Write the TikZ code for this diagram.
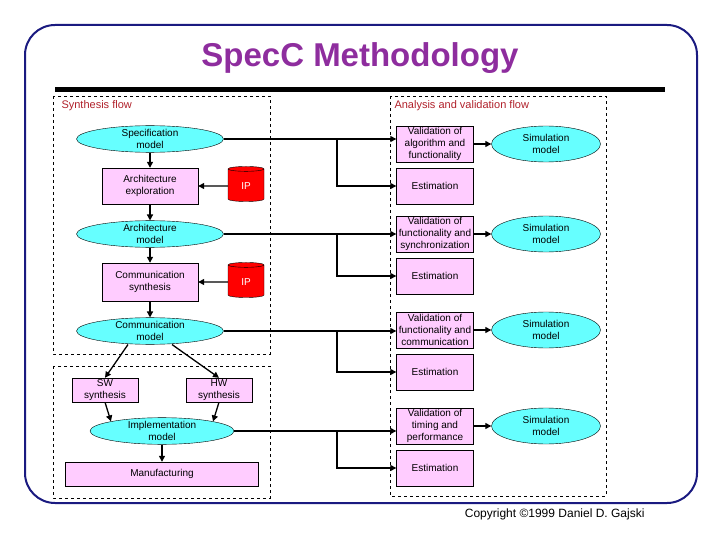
\documentclass[tikz,border=0pt]{standalone}
\usepackage{fontspec}
\setmainfont{Liberation Sans}
\usetikzlibrary{shapes.geometric,arrows.meta}
\definecolor{modelcyan}{HTML}{66FFFF}
\definecolor{taskpink}{HTML}{FFCCFF}
\definecolor{titlepurple}{HTML}{8E2D9E}
\definecolor{labelred}{HTML}{B0202A}
\definecolor{framenavy}{HTML}{1A1A80}
\tikzset{
  model/.style={ellipse,draw,fill=modelcyan,inner sep=0pt,font=\fontsize{10}{11.5}\selectfont,align=center},
  task/.style={rectangle,draw,fill=taskpink,inner sep=1pt,font=\fontsize{10}{12}\selectfont,align=center},
  ip/.style={cylinder,shape border rotate=90,aspect=0.3,draw,fill=red,text=white,minimum width=36pt,minimum height=35pt,font=\fontsize{10}{11}\selectfont},
  flow/.style={line width=1.3pt,-{Triangle[length=6pt,width=6pt]}},
  region/.style={draw,dashed,thin},
  region label/.style={anchor=west,text=labelred,font=\fontsize{11}{13}\selectfont}
}
\begin{document}
\begin{tikzpicture}[x=1pt,y=-1pt]
	\useasboundingbox (0,0) rectangle (720,540);
	\draw[framenavy,line width=2pt,rounded corners=30pt] (25,25) rectangle (697,503);
	\node[text=titlepurple,font=\fontsize{33}{36}\selectfont\bfseries](title) at (360,58){SpecC Methodology};
	\fill (55,87) rectangle (665,92);
	% regions
	\draw[region] (53,96) rectangle (270,354);
	\draw[region] (53,366) rectangle (270,498);
	\draw[region] (390,96) rectangle (606,496);
	\node[region label](synlbl) at (58,106){Synthesis flow};
	\node[region label](analbl) at (391,106){Analysis and validation flow};
	% synthesis flow
	\node[model,minimum width=147pt,minimum height=23pt](spec) at (150,139){Specification\\model};
	\node[task,minimum width=96pt,minimum height=36pt](archx) at (150,186){Architecture\\exploration};
	\node[ip](ipa) at (246,186){IP};
	\node[model,minimum width=147pt,minimum height=22pt](arch) at (150,234){Architecture\\model};
	\node[task,minimum width=96pt,minimum height=38pt](comms) at (150,282){Communication\\synthesis};
	\node[ip](ipb) at (246,282){IP};
	\node[model,minimum width=147pt,minimum height=24pt](comm) at (150,331){Communication\\model};
	\node[task,minimum width=66pt,minimum height=24pt](sw) at (105,390){SW\\synthesis};
	\node[task,minimum width=66pt,minimum height=24pt](hw) at (219,390){HW\\synthesis};
	\node[model,minimum width=144pt,minimum height=23pt](impl) at (162,431){Implementation\\model};
	\node[task,minimum width=193pt,minimum height=24pt](manu) at (162,474){Manufacturing};
	\draw[flow] (spec)--(archx);
	\draw[flow] (archx)--(arch);
	\draw[flow] (arch)--(comms);
	\draw[flow] (comms)--(comm);
	\draw[flow] (ipa)--(archx);
	\draw[flow] (ipb)--(comms);
	\draw[flow] (comm.south)++(-22,0) coordinate(cl) (cl)--(sw.north);
	\draw[flow] (comm.south)++(22,0) coordinate(cr) (cr)--(hw.north);
	\draw[flow] (sw.south)--(impl.north west);
	\draw[flow] (hw.south)--(impl.north east);
	\draw[flow] (impl)--(manu);
	% analysis and validation flow
	\node[task,minimum width=77pt,minimum height=36pt](vala) at (435,144){Validation of\\algorithm and\\functionality};
	\node[task,minimum width=77pt,minimum height=36pt](esta) at (435,186){Estimation};
	\node[task,minimum width=77pt,minimum height=36pt](valb) at (435,234){Validation of\\functionality and\\synchronization};
	\node[task,minimum width=77pt,minimum height=36pt](estb) at (435,276){Estimation};
	\node[task,minimum width=77pt,minimum height=36pt](valc) at (435,330){Validation of\\functionality and\\communication};
	\node[task,minimum width=77pt,minimum height=36pt](estc) at (435,372){Estimation};
	\node[task,minimum width=77pt,minimum height=36pt](vald) at (435,426){Validation of\\timing and\\performance};
	\node[task,minimum width=77pt,minimum height=36pt](estd) at (435,468){Estimation};
	\node[model,minimum width=109pt,minimum height=36pt](sima) at (546,144){Simulation\\model};
	\node[model,minimum width=109pt,minimum height=36pt](simb) at (546,234){Simulation\\model};
	\node[model,minimum width=109pt,minimum height=36pt](simc) at (546,330){Simulation\\model};
	\node[model,minimum width=109pt,minimum height=36pt](simd) at (546,426){Simulation\\model};
	\foreach \v/\s in {vala/sima,valb/simb,valc/simc,vald/simd}
		\draw[flow] (\v)--(\s);
	\foreach \m/\v/\e in {spec/vala/esta,arch/valb/estb,comm/valc/estc,impl/vald/estd}{
		\draw[flow] (\m.east)--(\m.east-|\v.west);
		\draw[flow] (\m.east-|337,0)|-(\e.west);
	}
	\node[anchor=east,font=\fontsize{12}{14}\selectfont](copy) at (648,514){Copyright \textcopyright1999 Daniel D. Gajski};
\end{tikzpicture}
\end{document}
